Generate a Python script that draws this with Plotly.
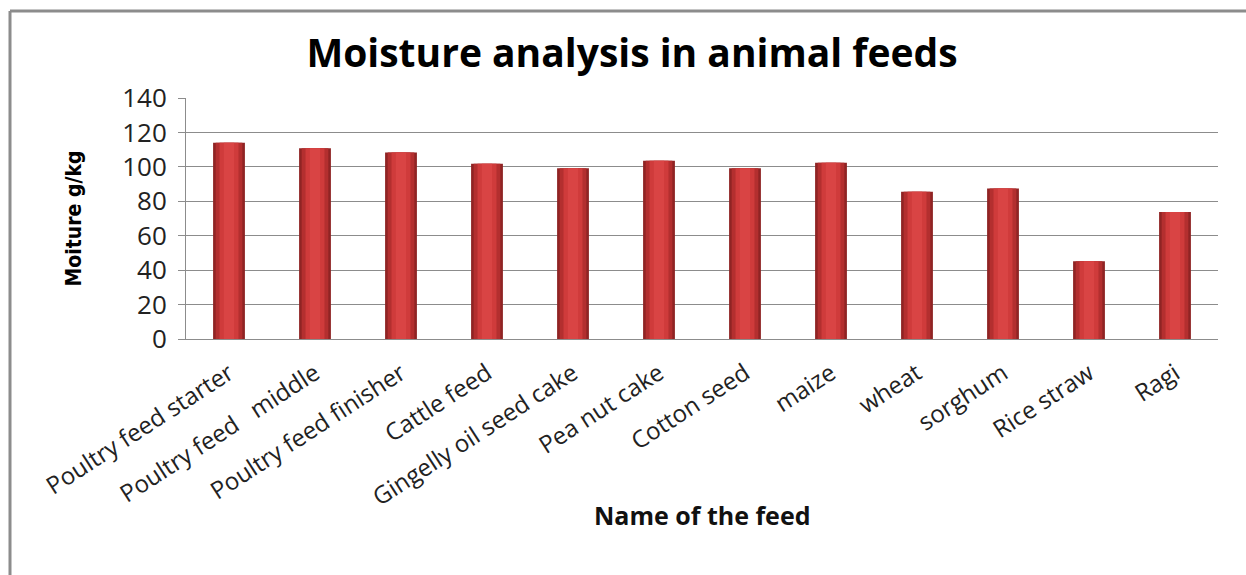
import plotly.graph_objects as go

feeds = ["Poultry feed starter", "Poultry feed   middle", "Poultry feed finisher", "Cattle feed",
         "Gingelly oil seed cake", "Pea nut cake", "Cotton seed", "maize", "wheat", "sorghum",
         "Rice straw", "Ragi"]
moisture = [114, 110.8, 108.3, 101.8, 99.2, 103.5, 99.2, 102.4, 85.5, 87.4, 45.2, 73.8]
y_ticks = [0, 20, 40, 60, 80, 100, 120, 140]

W, H = 1246, 575
L, R, T, B = 186, 28, 98, 236
pw, ph = W - L - R, H - T - B
FONT = "'Open Sans', Lato, sans-serif"

fig = go.Figure()
# bar body with darker edges, then lighter inner shading layers
for width, color in [(0.37, "#8f2424"), (0.31, "#b32f2f"), (0.22, "#cf3b3b"), (0.12, "#d94444")]:
    fig.add_trace(go.Bar(x=feeds, y=moisture, width=width, marker=dict(color=color, line=dict(width=0)),
                         hoverinfo="x+y", showlegend=False))

def px_x(p):
    return (p - L) / pw

def px_y(p):
    return (H - B - p) / ph

fig.update_layout(
    width=W, height=H,
    barmode="overlay",
    margin=dict(l=L, r=R, t=T, b=B),
    paper_bgcolor="white", plot_bgcolor="white",
    font=dict(family=FONT, color="#222"),
    title=dict(text="<b>Moisture analysis in animal feeds</b>", x=632 / W, xanchor="center",
               y=1 - 53 / H, yanchor="middle", font=dict(size=39, color="#000", family=FONT)),
    xaxis=dict(
        tickangle=-33, tickfont=dict(size=24, color="#222"), ticklabelstandoff=10,
        showline=True, linecolor="#8c8c8c", linewidth=1,
        showgrid=False, ticks="",
    ),
    yaxis=dict(
        range=[0, 140], tickvals=y_ticks, tickfont=dict(size=26, color="#222"), ticklabelstandoff=6,
        showgrid=True, gridcolor="#8c8c8c", gridwidth=1,
        showline=True, linecolor="#8c8c8c", linewidth=1,
        ticks="outside", ticklen=7, tickcolor="#8c8c8c",
        zeroline=False,
        title=dict(text="<b>Moiture g/kg</b>", font=dict(size=21, color="#000",
                   family="'Liberation Sans Narrow', 'DejaVu Sans Condensed', sans-serif"), standoff=34),
    ),
    annotations=[
        dict(text="<b>Name of the feed</b>", xref="paper", yref="paper", x=0.5, y=px_y(515),
             xanchor="center", yanchor="middle", showarrow=False,
             font=dict(size=25, color="#111", family=FONT)),
    ],
    shapes=[
        dict(type="line", xref="paper", yref="paper", x0=px_x(10), x1=px_x(1300), y0=px_y(11), y1=px_y(11),
             line=dict(color="#8c8c8c", width=3)),
        dict(type="line", xref="paper", yref="paper", x0=px_x(10), x1=px_x(10), y0=px_y(11), y1=px_y(600),
             line=dict(color="#8c8c8c", width=3)),
    ],
)

fig.write_html("out.html")
